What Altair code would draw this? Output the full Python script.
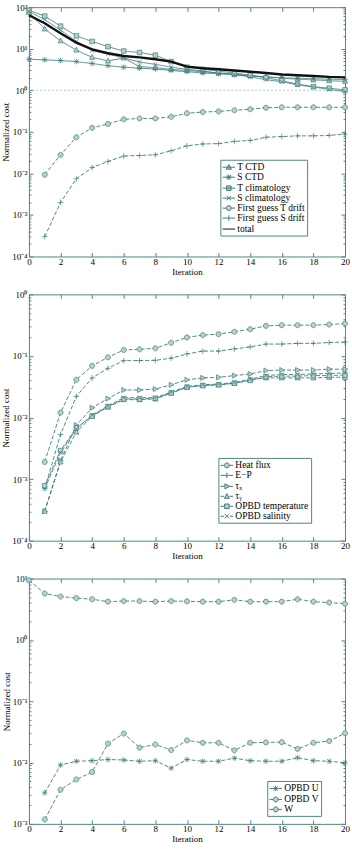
import altair as alt
import pandas as pd

FONT = "Liberation Serif"
LINE = "#3f7d7b"
FILL = "#b3d1ce"
FRAME = "#4f8785"
BLACK = "#111111"

# ---------------- data ----------------
iter_all = list(range(0, 21))
iter_from1 = list(range(1, 21))

# Panel 1
t_ctd = [75, 30, 15.5, 9.3, 6.2, 5.1, 6.0, 3.7, 3.5, 3.2, 3.0, 2.8, 2.6, 2.45, 2.25, 2.1, 1.95, 1.85, 1.78, 1.7, 1.65]
s_ctd = [5.6, 5.4, 5.2, 4.9, 4.4, 3.9, 3.6, 3.4, 3.25, 3.0, 2.8, 2.6, 2.5, 2.35, 2.2, 2.1, 2.0, 1.95, 1.9, 1.85, 1.8]
t_clim = [85, 61, 35, 20.4, 15, 11.2, 8.8, 8.1, 7.0, 4.9, 3.6, 3.2, 2.9, 2.6, 2.3, 2.0, 1.7, 1.4, 1.22, 1.12, 1.02]
s_clim = [80, 50, 28, 15, 9, 7.5, 6.0, 4.8, 4.2, 3.6, 3.2, 2.9, 2.6, 2.4, 2.1, 1.8, 1.6, 1.35, 1.2, 1.05, 0.93]
fg_t_drift = [0.0093, 0.028, 0.074, 0.125, 0.155, 0.2, 0.21, 0.21, 0.23, 0.28, 0.3, 0.31, 0.33, 0.35, 0.38, 0.39, 0.39, 0.39, 0.39, 0.39]
fg_s_drift = [0.0003, 0.002, 0.0074, 0.0138, 0.0194, 0.026, 0.027, 0.028, 0.035, 0.046, 0.051, 0.052, 0.059, 0.062, 0.074, 0.077, 0.08, 0.08, 0.082, 0.089]
total = [64, 41, 23.5, 14, 9.6, 7.8, 6.7, 6.2, 5.6, 4.9, 3.7, 3.4, 3.2, 3.0, 2.8, 2.6, 2.4, 2.3, 2.2, 2.1, 2.05]
unity_line = [1.0]

# Panel 2 (iterations 1..20)
heat_flux = [0.0019, 0.012, 0.041, 0.069, 0.095, 0.125, 0.128, 0.133, 0.164, 0.2, 0.218, 0.226, 0.247, 0.272, 0.308, 0.316, 0.316, 0.316, 0.324, 0.336]
e_minus_p = [0.0007, 0.0053, 0.022, 0.044, 0.063, 0.084, 0.084, 0.085, 0.092, 0.108, 0.12, 0.12, 0.13, 0.14, 0.156, 0.156, 0.16, 0.16, 0.165, 0.168]
tau_x = [0.0003, 0.002, 0.0075, 0.0144, 0.0203, 0.028, 0.028, 0.029, 0.034, 0.041, 0.044, 0.045, 0.048, 0.051, 0.058, 0.059, 0.059, 0.059, 0.061, 0.061]
tau_y = [0.0003, 0.0019, 0.0058, 0.0105, 0.0148, 0.0195, 0.0195, 0.02, 0.025, 0.031, 0.033, 0.034, 0.036, 0.041, 0.044, 0.044, 0.044, 0.044, 0.045, 0.045]
opbd_temp = [0.00078, 0.0029, 0.0068, 0.0105, 0.015, 0.02, 0.02, 0.0205, 0.025, 0.031, 0.033, 0.034, 0.036, 0.04, 0.046, 0.047, 0.047, 0.048, 0.048, 0.049]
opbd_sal = [0.0007, 0.0027, 0.0065, 0.011, 0.0155, 0.021, 0.021, 0.021, 0.026, 0.032, 0.034, 0.035, 0.037, 0.042, 0.048, 0.05, 0.05, 0.051, 0.052, 0.053]

# Panel 3
opbd_u = [0.0032, 0.0091, 0.0105, 0.0107, 0.0112, 0.011, 0.0105, 0.0107, 0.0081, 0.0112, 0.0105, 0.0105, 0.0118, 0.0107, 0.0105, 0.0105, 0.012, 0.0107, 0.0105, 0.0099]
opbd_v = [0.00118, 0.0036, 0.0053, 0.007, 0.0204, 0.0297, 0.0175, 0.0197, 0.016, 0.023, 0.021, 0.021, 0.0158, 0.021, 0.0213, 0.0215, 0.0167, 0.021, 0.0224, 0.03]
w_cost = [9.4, 5.7, 5.1, 4.8, 4.6, 4.2, 4.3, 4.3, 4.2, 4.3, 4.25, 4.2, 4.2, 4.5, 4.2, 4.2, 4.2, 4.6, 4.2, 4.06, 3.9]


def long(items):
    rows = []
    for name, xs, vs in items:
        for x, v in zip(xs, vs):
            rows.append({"iter": x, "value": v, "series": name})
    return pd.DataFrame(rows)


# ---------------- marker paths ----------------
def n(v):
    return f"{v:.3g}"


def circle(r):
    return f"M{n(-r)},0A{n(r)},{n(r)} 0 1,1 {n(r)},0A{n(r)},{n(r)} 0 1,1 {n(-r)},0Z"


def square(r):
    return f"M{n(-0.9*r)},{n(-0.9*r)}H{n(0.9*r)}V{n(0.9*r)}H{n(-0.9*r)}Z"


def tri_up(r):
    return f"M0,{n(-1.1*r)}L{n(r)},{n(0.8*r)}H{n(-r)}Z"


def tri_right(r):
    return f"M{n(1.1*r)},0L{n(-0.8*r)},{n(-r)}V{n(r)}Z"


def plus(r):
    return f"M{n(-1.1*r)},0H{n(1.1*r)}M0,{n(-1.1*r)}V{n(1.1*r)}"


def cross(r):
    d = 0.85 * r
    return f"M{n(-d)},{n(-d)}L{n(d)},{n(d)}M{n(-d)},{n(d)}L{n(d)},{n(-d)}"


def aster(r):
    return plus(r) + cross(r)


MARK = dict(circle=circle, square=square, tri_up=tri_up, tri_right=tri_right,
            plus=plus, cross=cross, aster=aster)

LEG_SOLID = "M-1.25,0H1.25"
LEG_DASH = "M-1.25,0H-0.55M0.55,0H1.25"


def tick_values(lo, hi):
    vals = []
    for e in range(lo, hi):
        for m in range(1, 10):
            vals.append(float(f"{m}e{e}"))
    vals.append(float(f"1e{hi}"))
    return vals


SUP = {-4: "⁻⁴", -3: "⁻³", -2: "⁻²", -1: "⁻¹", 0: "⁰", 1: "¹", 2: "²"}
LOGV = "log(datum.value)/LN10"
EXP = f"round({LOGV})"
MINOR = f"abs({LOGV} - {EXP}) > 0.01"
label_expr = "''"
for e, s in SUP.items():
    label_expr = f"{EXP} == {e} ? '10{s}' : ({label_expr})"
label_expr = f"{MINOR} ? '' : ({label_expr})"

TICK_DASH = {"condition": {"test": MINOR, "value": [0, 2, 2, 0]}, "value": [4, 0]}


def panel(df, names, markers, dashed, ydom, lo, hi, height, lx, ly,
          colors=None, widths=None, rule_df=None, thick=None):
    yvals = tick_values(lo, hi)
    xscale = alt.Scale(domain=[0, 20], nice=False, zero=False)
    yscale = alt.Scale(type="log", domain=ydom, nice=False)
    colors = colors or [LINE] * len(names)
    widths = widths or [1] * len(names)

    x_main = alt.X("iter:Q", scale=xscale, axis=alt.Axis(
        values=list(range(0, 21, 2)), format="d", title="Iteration",
        labelFlush=False, domain=False, grid=False, tickSize=4, offset=-4,
        labelPadding=1, tickColor=FRAME, labelFont=FONT, labelFontSize=9,
        labelColor="black", titleFont=FONT, titleFontSize=9,
        titleFontWeight="normal", titleColor="black", titlePadding=1,
        minExtent=0))
    y_main = alt.Y("value:Q", scale=yscale, axis=alt.Axis(
        values=yvals, labelExpr=label_expr, title="Normalized cost",
        domain=False, grid=False, tickSize=4, offset=-4, labelPadding=2,
        tickColor=FRAME, tickDash=TICK_DASH, labelOverlap=False,
        labelFont=FONT, labelFontSize=9, labelColor="black",
        titleFont=FONT, titleFontSize=9, titleFontWeight="normal",
        titleColor="black", titlePadding=1, minExtent=0))
    x_plain = alt.X("iter:Q", scale=xscale, axis=None)
    y_plain = alt.Y("value:Q", scale=yscale, axis=None)

    layers = []
    if rule_df is not None:
        layers.append(alt.Chart(rule_df).mark_rule(
            color="#8fbdb9", strokeWidth=0.8, strokeDash=[2, 2]).encode(
            y=alt.Y("ref:Q", scale=yscale, axis=None)))

    thin_names = [nm for nm in names if nm != thick]
    lines = alt.Chart(df).transform_filter(
        alt.FieldOneOfPredicate(field="series", oneOf=thin_names)).mark_line(
        color=LINE, strokeWidth=0.9).encode(
        x=x_main, y=y_main, detail="series:N",
        strokeDash=alt.StrokeDash("series:N", scale=alt.Scale(
            domain=names, range=[[4, 2] if d else [1, 0] for d in dashed]), legend=None),
        order=alt.Order("iter:Q"),
    )
    layers.append(lines)

    mk_names = [nm for nm, m in zip(names, markers) if m]
    mk_paths = [MARK[m](1.0) for m in markers if m]
    points = alt.Chart(df).transform_filter(
        alt.FieldOneOfPredicate(field="series", oneOf=mk_names)).mark_point(
        filled=True, fill=FILL, stroke=LINE, strokeWidth=0.7, size=26, opacity=1).encode(
        x=x_plain, y=y_plain,
        shape=alt.Shape("series:N", scale=alt.Scale(domain=mk_names, range=mk_paths), legend=None))
    layers.append(points)

    if thick is not None:
        layers.append(alt.Chart(df).transform_filter(
            alt.datum.series == thick).mark_line(color=BLACK, strokeWidth=2.4).encode(
            x=x_plain, y=y_plain, order=alt.Order("iter:Q")))

    leg_paths = []
    for m, d in zip(markers, dashed):
        base = LEG_DASH if (d and m) else LEG_SOLID
        leg_paths.append(base + (MARK[m](0.5) if m else ""))
    legend = alt.Legend(orient="none", legendX=lx, legendY=ly, direction="vertical",
                        title=None, labelFont=FONT, labelFontSize=9.5, labelColor="black",
                        symbolSize=100, symbolOffset=1, labelOffset=3, rowPadding=0,
                        padding=2, strokeColor=FRAME, fillColor="white", symbolOpacity=1)
    leg = alt.Chart(df).transform_filter("false").mark_point(
        filled=False, fill=FILL, size=100).encode(
        shape=alt.Shape("series:N", scale=alt.Scale(domain=names, range=leg_paths), legend=legend),
        color=alt.Color("series:N", scale=alt.Scale(domain=names, range=colors), legend=legend),
        strokeWidth=alt.StrokeWidth("series:N", scale=alt.Scale(domain=names, range=widths), legend=legend),
    )
    layers.append(leg)

    axes = alt.Chart(df).transform_filter("false").mark_point().encode(
        x=alt.X("iter:Q", scale=xscale, axis=alt.Axis(
            orient="top", values=list(range(0, 21, 2)), labels=False, title=None,
            domain=False, grid=False, tickSize=4, offset=-4, tickColor=FRAME,
            minExtent=0, maxExtent=0)),
        y=alt.Y("value:Q", scale=yscale, axis=alt.Axis(
            orient="right", values=yvals, labels=False, title=None, domain=False,
            grid=False, tickSize=4, offset=-4, tickColor=FRAME, tickDash=TICK_DASH,
            minExtent=0, maxExtent=0)),
    )
    layers.append(axes)

    return alt.layer(*layers).resolve_scale(
        color="independent", shape="independent",
        strokeWidth="independent", strokeDash="independent").resolve_axis(
        x="independent", y="independent").properties(width=317, height=height)


names1 = ["T CTD", "S CTD", "T climatology", "S climatology",
          "First guess T drift", "First guess S drift", "total"]
df1 = long([
    ("T CTD", iter_all, t_ctd), ("S CTD", iter_all, s_ctd),
    ("T climatology", iter_all, t_clim), ("S climatology", iter_all, s_clim),
    ("First guess T drift", iter_from1, fg_t_drift),
    ("First guess S drift", iter_from1, fg_s_drift),
    ("total", iter_all, total),
])
p1 = panel(df1, names1,
           ["tri_up", "aster", "square", "cross", "circle", "plus", None],
           [False, False, False, False, True, True, False],
           [1e-4, 1e2], -4, 2, 250, 192, 153,
           colors=[LINE] * 6 + [BLACK], widths=[1] * 6 + [2.5],
           rule_df=pd.DataFrame({"ref": unity_line}), thick="total")

names2 = ["Heat flux", "E−P", "τₓ", "τᵧ", "OPBD temperature", "OPBD salinity"]
df2 = long([
    ("Heat flux", iter_from1, heat_flux), ("E−P", iter_from1, e_minus_p),
    ("τₓ", iter_from1, tau_x), ("τᵧ", iter_from1, tau_y),
    ("OPBD temperature", iter_from1, opbd_temp), ("OPBD salinity", iter_from1, opbd_sal),
])
p2 = panel(df2, names2,
           ["circle", "plus", "tri_right", "tri_up", "square", "cross"],
           [True] * 6, [1e-4, 1e0], -4, 0, 247, 190, 164)

names3 = ["OPBD U", "OPBD V", "W"]
df3 = long([
    ("OPBD U", iter_from1, opbd_u), ("OPBD V", iter_from1, opbd_v),
    ("W", iter_all, w_cost),
])
p3 = panel(df3, names3, ["aster", "circle", "circle"], [True] * 3,
           [1e-3, 1e1], -3, 1, 246, 239, 203)

chart = alt.vconcat(p1, p2, p3, spacing=38, bounds="flush").properties(
    padding={"left": 1, "top": 1, "right": 1, "bottom": 1},
    background="white",
).configure_view(stroke=FRAME, strokeWidth=1, fill="white")

chart.save("out.html", embed_options={"renderer": "svg", "actions": False})
